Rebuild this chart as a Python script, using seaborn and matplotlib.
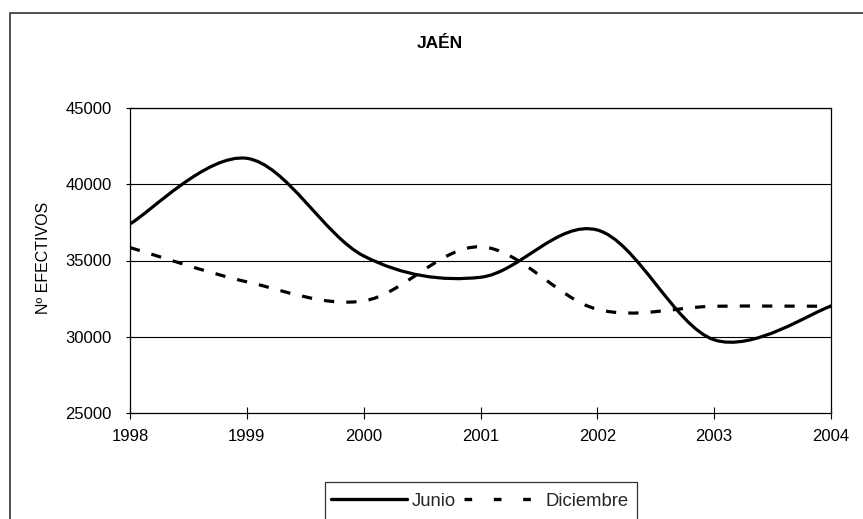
import matplotlib
matplotlib.use("Agg")
import matplotlib.pyplot as plt
import seaborn as sns
import numpy as np
import pandas as pd
from matplotlib.path import Path
from matplotlib.patches import PathPatch, Rectangle
from matplotlib.lines import Line2D
from matplotlib import font_manager

# ---- data ----
years = [1998, 1999, 2000, 2001, 2002, 2003, 2004]
junio = [37400, 41700, 35300, 33900, 37000, 29800, 32000]
diciembre = [35850, 33600, 32350, 35900, 31800, 32000, 32000]
series_names = ["Junio", "Diciembre"]
title_text = "JAÉN"
ylabel_text = "Nº EFECTIVOS"
yticks = [25000, 30000, 35000, 40000, 45000]

sns.set_theme(style="white")
names = {f.name for f in font_manager.fontManager.ttflist}
base_font = "Liberation Sans" if "Liberation Sans" in names else "DejaVu Sans"
narrow_font = "Liberation Sans Narrow" if "Liberation Sans Narrow" in names else base_font
plt.rcParams["font.family"] = [base_font, "DejaVu Sans"]

W, H = 863, 519
fig = plt.figure(figsize=(W / 100, H / 100), dpi=100)
fig.patch.set_facecolor("white")
ax = fig.add_axes([130 / W, 1 - 413 / H, 701 / W, 305 / H])

df = pd.DataFrame({"year": years * 2,
                   "value": junio + diciembre,
                   "serie": ["Junio"] * len(years) + ["Diciembre"] * len(years)})
# seaborn sets up the scales from the data (line itself drawn smoothed below)
sns.lineplot(data=df, x="year", y="value", hue="serie", ax=ax, linewidth=0,
             legend=False, palette=["black", "black"])


def smooth_path(xs, ys):
    # Excel-like smoothed line: cubic Bezier segments through the data points
    p = np.column_stack([xs, ys]).astype(float)
    ext = np.vstack([p[0], p, p[-1]])
    verts = [tuple(p[0])]
    codes = [Path.MOVETO]
    for i in range(len(p) - 1):
        p0, p1, p2, p3 = ext[i], ext[i + 1], ext[i + 2], ext[i + 3]
        c1 = p1 + (p2 - p0) / 6.0
        c2 = p2 - (p3 - p1) / 6.0
        verts += [tuple(c1), tuple(c2), tuple(p2)]
        codes += [Path.CURVE4] * 3
    return Path(verts, codes)


ax.add_patch(PathPatch(smooth_path(years, junio), facecolor="none",
                       edgecolor="black", lw=2.3, capstyle="butt", zorder=4))
ax.add_patch(PathPatch(smooth_path(years, diciembre), facecolor="none",
                       edgecolor="black", lw=2.3, linestyle=(0, (3.2, 3.8)),
                       capstyle="butt", zorder=3))

ax.set_xlim(years[0], years[-1])
ax.set_ylim(yticks[0], yticks[-1])
ax.set_xticks(years)
ax.set_xticklabels([str(y) for y in years])
ax.set_yticks(yticks)
ax.set_yticklabels([str(v) for v in yticks])
ax.set_xlabel("")
ax.set_ylabel("")
for v in yticks[1:]:
    ax.axhline(v, color="black", lw=0.8, zorder=1)

for s in ax.spines.values():
    s.set_visible(True)
    s.set_color("black")
    s.set_linewidth(0.9)

ax.tick_params(axis="x", direction="inout", length=8.5, width=0.8, color="black",
               pad=7.5, labelsize=12, labelcolor="black", bottom=True)
ax.tick_params(axis="y", direction="inout", length=6, width=0.8, color="black",
               pad=10, labelsize=12, labelcolor="black", left=True)
ax.grid(False)
ax.set_facecolor("white")

fig.text(440 / W, 1 - 43 / H, title_text, ha="center", va="center",
         fontsize=12.5, fontweight="bold", color="black")
fig.text(43 / W, 1 - 258 / H, ylabel_text, ha="center", va="center",
         rotation=90, fontsize=11.5, family=[narrow_font, "DejaVu Sans"],
         color="black")

# chart-area border (extends past right/bottom edges)
fig.patches.append(Rectangle((10 / W, -0.2), 1.0, 1.2 - 13 / H,
                             transform=fig.transFigure, fill=False,
                             edgecolor="#222222", lw=1.1, zorder=0))
# legend box (extends past bottom edge)
fig.patches.append(Rectangle((325 / W, -0.1), 312 / W, 0.1 + 1 - 482 / H,
                             transform=fig.transFigure, fill=False,
                             edgecolor="#333333", lw=0.9, zorder=0))

handles = [Line2D([0], [0], color="black", lw=2.4),
           Line2D([0], [0], color="black", lw=2.4, linestyle=(0, (2.3, 6.5)),
                  dash_capstyle="butt")]
fig.legend(handles, series_names, loc="center left",
           bbox_to_anchor=(325 / W, 1 - 501 / H), ncol=2, frameon=False,
           borderaxespad=0, borderpad=0.33, handlelength=4.1,
           handletextpad=0.28, columnspacing=0.45, fontsize=13.3)

fig.savefig("out.png", dpi=100, facecolor="white")
